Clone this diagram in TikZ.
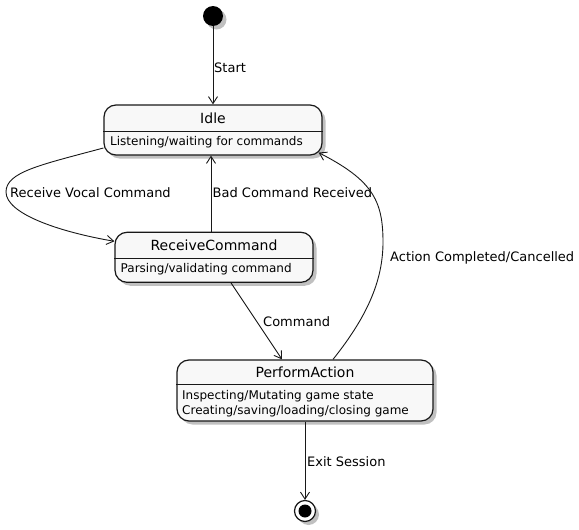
\documentclass[tikz,border=0pt]{standalone}
\usepackage{fontspec}
\setmainfont{DejaVu Sans}
\usetikzlibrary{arrows.meta,shadows,calc}
\definecolor{lineC}{HTML}{181818}
\definecolor{boxC}{HTML}{F8F8F8}
\tikzset{
  shad/.style={drop shadow={shadow xshift=3.5pt,shadow yshift=-3.5pt,fill=black!45,opacity=0.55}},
  statebox/.style={draw=lineC,line width=1.2pt,fill=boxC,rounded corners=12pt,inner sep=0pt,shad},
  titletxt/.style={inner sep=0pt,font=\fontsize{14}{16}\selectfont},
  desctxt/.style={inner sep=0pt,anchor=west,align=left,font=\fontsize{12}{15}\selectfont},
  lbl/.style={inner sep=0pt,anchor=west,font=\fontsize{13}{15}\selectfont},
  arr/.style={draw=lineC,line width=0.9pt,-{Straight Barb[length=7pt,width=9pt]}},
  divider/.style={draw=lineC,line width=1pt}
}
\begin{document}
\begin{tikzpicture}[x=1pt,y=-1pt]
\useasboundingbox (0,0) rectangle (579,530);
% initial
\node[circle,fill=black,minimum size=20pt,inner sep=0pt,shad] (init) at (213,16) {};
% Idle
\node[statebox,minimum width=218pt,minimum height=50pt] (idle) at (213,130) {};
\draw[divider] (idle.west |- 0,131) -- (idle.east |- 0,131);
\node[titletxt] (idleT) at (213,118) {Idle};
\node[desctxt] (idleD) at (110,142.5) {Listening/waiting for commands};
% ReceiveCommand
\node[statebox,minimum width=198pt,minimum height=50pt] (rc) at (214,257.3) {};
\draw[divider] (rc.west |- 0,258.3) -- (rc.east |- 0,258.3);
\node[titletxt] (rcT) at (214,245) {ReceiveCommand};
\node[desctxt] (rcD) at (120.5,269.5) {Parsing/validating command};
% PerformAction
\node[statebox,minimum width=256pt,minimum height=61pt] (pa) at (305,390.5) {};
\draw[divider] (pa.west |- 0,384.3) -- (pa.east |- 0,384.3);
\node[titletxt] (paT) at (305,372) {PerformAction};
\node[desctxt] (paD) at (182,404) {Inspecting/Mutating game state\\Creating/saving/loading/closing game};
% final
\node[circle,draw=lineC,line width=1.2pt,fill=white,minimum size=21pt,inner sep=0pt,shad,
  path picture={\fill[black] (path picture bounding box.center) circle (6.5pt);}] (final) at (305,511) {};
% edges
\draw[arr] (init) -- (idle.north);
\node[lbl] (lStart) at (214,68) {Start};
\draw[arr] ([yshift=-18pt]idle.west) .. controls (40,165) and (6,172) .. (6,192)
  .. controls (6,214) and (60,232) .. ([yshift=16pt]rc.west);
\node[lbl] (lVocal) at (10,193) {Receive Vocal Command};
\draw[arr] ([xshift=-3pt]rc.north) -- ([xshift=-3pt]rc.north |- idle.south);
\node[lbl] (lBad) at (212.5,193) {Bad Command Received};
\draw[arr] ([xshift=17pt]rc.south) -- ([xshift=-23pt]pa.north);
\node[lbl] (lCmd) at (263,322) {Command};
\draw[arr] ([xshift=28pt]pa.north) .. controls (366,318) and (383,282) .. (383,242)
  .. controls (383,200) and (372,180) .. ([xshift=-4pt,yshift=3pt]idle.south east);
\node[lbl] (lAct) at (390,258) {Action Completed/Cancelled};
\draw[arr] (pa.south) -- (final.north);
\node[lbl] (lExit) at (307,462) {Exit Session};
\end{tikzpicture}
\end{document}
